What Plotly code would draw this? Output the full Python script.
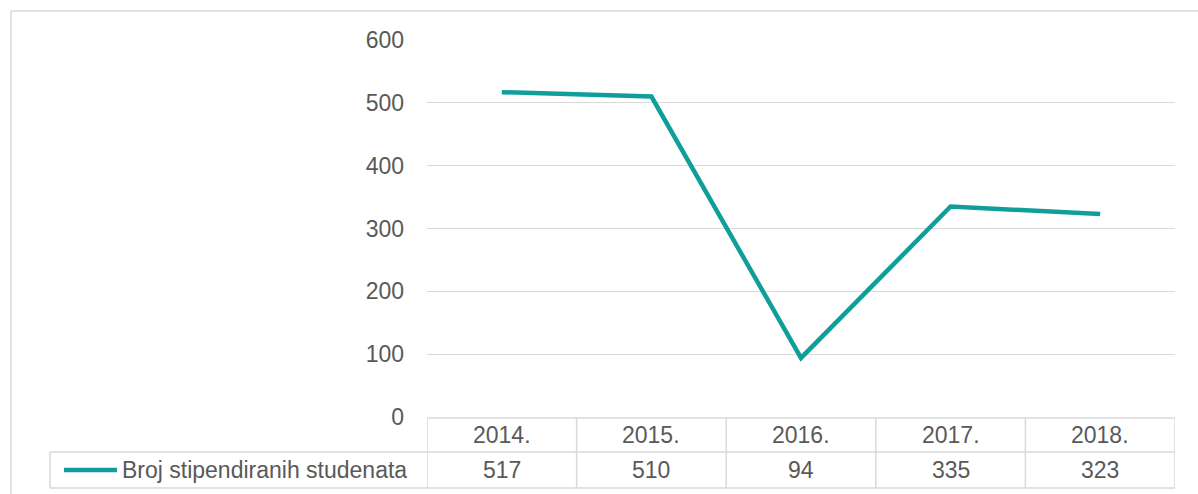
import plotly.graph_objects as go

# Data
years = ["2014.", "2015.", "2016.", "2017.", "2018."]
students = [517, 510, 94, 335, 323]
series_name = "Broj stipendiranih studenata"

# Figure geometry (pixels)
W, H = 1198, 494
PLOT_L, PLOT_R, PLOT_T, PLOT_B = 427, 1175, 40, 417
TEAL = "#109e9b"
GRID = "#d9d9d9"
TEXT = "#595959"
FONT = "Liberation Sans, Arial, sans-serif"
FS = 23


def px_x(px):
    """Pixel x -> paper x."""
    return (px - PLOT_L) / (PLOT_R - PLOT_L)


def px_y(py):
    """Pixel y -> paper y."""
    return (PLOT_B - py) / (PLOT_B - PLOT_T)


n = len(years)
xs = list(range(n))

fig = go.Figure()
fig.add_trace(go.Scatter(
    x=xs, y=students, mode="lines", name=series_name,
    line=dict(color=TEAL, width=4.5),
    showlegend=False, hoverinfo="skip",
))

shapes = []
# outer chart frame
shapes.append(dict(type="rect", xref="paper", yref="paper",
                   x0=px_x(11), x1=px_x(1300), y0=px_y(600), y1=px_y(11),
                   line=dict(color=GRID, width=1.5), layer="below"))

# data table below the axis
ROW1_T, ROW1_B, ROW2_B = 418, 452, 488
LEG_L = 50
line_style = dict(color=GRID, width=1.5)
# horizontal rules
shapes.append(dict(type="line", xref="paper", yref="paper",
                   x0=0, x1=1, y0=px_y(ROW1_T), y1=px_y(ROW1_T), line=line_style))
shapes.append(dict(type="line", xref="paper", yref="paper",
                   x0=px_x(LEG_L), x1=1, y0=px_y(ROW1_B), y1=px_y(ROW1_B), line=line_style))
shapes.append(dict(type="line", xref="paper", yref="paper",
                   x0=px_x(LEG_L), x1=1, y0=px_y(ROW2_B), y1=px_y(ROW2_B), line=line_style))
# vertical rules at category boundaries
for k in range(n + 1):
    shapes.append(dict(type="line", xref="x", yref="paper",
                       x0=k - 0.5, x1=k - 0.5, y0=px_y(ROW1_T), y1=px_y(ROW2_B),
                       line=line_style))
shapes.append(dict(type="line", xref="paper", yref="paper",
                   x0=px_x(LEG_L), x1=px_x(LEG_L), y0=px_y(ROW1_B), y1=px_y(ROW2_B),
                   line=line_style))
# legend key in the table
key_y = px_y((ROW1_B + ROW2_B) / 2)
shapes.append(dict(type="line", xref="paper", yref="paper",
                   x0=px_x(64), x1=px_x(117), y0=key_y, y1=key_y,
                   line=dict(color=TEAL, width=4.5)))

annotations = []
for i, (yr, v) in enumerate(zip(years, students)):
    annotations.append(dict(x=i, xref="x", y=px_y((ROW1_T + ROW1_B) / 2), yref="paper",
                            text=yr, showarrow=False, xanchor="center", yanchor="middle",
                            font=dict(family=FONT, size=FS, color=TEXT)))
    annotations.append(dict(x=i, xref="x", y=key_y, yref="paper",
                            text=str(v), showarrow=False, xanchor="center", yanchor="middle",
                            font=dict(family=FONT, size=FS, color=TEXT)))
annotations.append(dict(x=px_x(120), xref="paper", y=key_y, yref="paper",
                        text=series_name, showarrow=False, xanchor="left", yanchor="middle",
                        font=dict(family=FONT, size=FS, color=TEXT)))

fig.update_layout(
    width=W, height=H,
    margin=dict(l=PLOT_L, r=W - PLOT_R, t=PLOT_T, b=H - PLOT_B, autoexpand=False),
    paper_bgcolor="white", plot_bgcolor="white",
    shapes=shapes, annotations=annotations,
    xaxis=dict(range=[-0.5, n - 0.5], showgrid=False, zeroline=False,
               showticklabels=False, showline=False, fixedrange=True),
    yaxis=dict(range=[0, 600], dtick=100, showgrid=True, gridcolor=GRID, gridwidth=1.3,
               zeroline=False, showline=False, ticks="",
               ticklabelstandoff=22,
               tickfont=dict(family=FONT, size=FS, color=TEXT), fixedrange=True),
)

fig.write_html("out.html")
